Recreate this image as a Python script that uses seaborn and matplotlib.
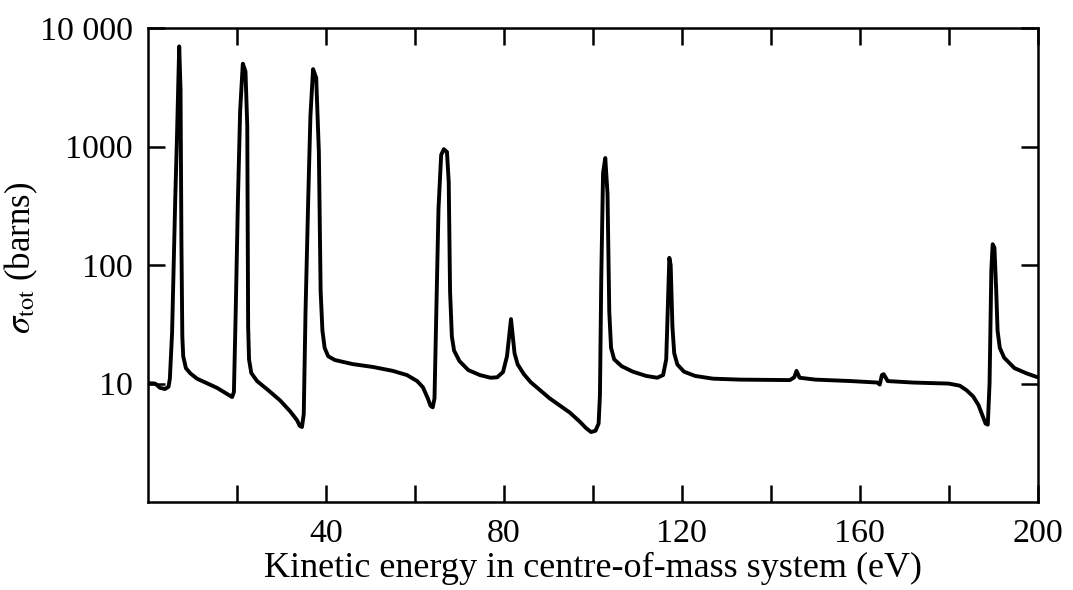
import pandas as pd
import seaborn as sb
import matplotlib.pyplot as plt

# Total cross section vs centre-of-mass kinetic energy
energy = [0, 1.6, 2.7, 3.8, 4.6, 4.9, 5.4, 6.1, 6.5, 7.0, 7.3, 7.5, 7.7, 7.9, 8.5, 9.5,
          11.0, 15.5, 18.2, 18.9, 19.3, 19.7, 20.2, 20.7, 21.3, 21.9, 22.3, 22.5, 22.7, 23.2,
          24.5, 27.0, 29.7, 32.0, 33.5, 34.1, 34.6, 35.0, 35.4, 36.0, 36.5, 37.1, 37.8, 38.4,
          38.8, 39.2, 39.7, 40.5, 42.0, 46.0, 50.6, 55.0, 58.2, 60.5, 61.8, 62.9, 63.5, 64.0,
          64.4, 64.8, 65.3, 65.9, 66.5, 67.2, 67.6, 67.9, 68.3, 68.8, 70.0, 72.0, 74.6, 77.0,
          78.5, 79.8, 80.7, 81.6, 82.4, 83.1, 84.5, 86.0, 90.3, 94.8, 97.0, 98.5, 99.6, 100.6,
          101.3, 101.6, 101.9, 102.3, 102.8, 103.3, 103.7, 104.1, 104.8, 106.5, 109.0, 112.0,
          114.5, 115.8, 116.5, 116.9, 117.2, 117.5, 117.9, 118.3, 119.0, 120.5, 123.0, 127.0,
          133.0, 144.3, 145.3, 145.8, 146.5, 150.0, 158.0, 164.0, 164.5, 165.0, 165.4, 166.3,
          172.0, 180.0, 182.5, 184.0, 185.5, 186.7, 187.6, 188.3, 188.8, 189.2, 189.6, 189.9,
          190.3, 190.7, 191.0, 191.5, 192.5, 194.8, 197.5, 200.0]
sigma = [10.1, 10.0, 9.2, 9.0, 9.4, 11, 27, 350, 1200, 7000, 3000, 150, 25, 17, 13.5, 12.2,
         11.0, 9.2, 8.0, 7.7, 8.5, 40, 350, 2000, 5000, 4300, 1500, 30, 16, 12.3,
         10.5, 8.8, 7.2, 5.8, 4.9, 4.4, 4.3, 5.5, 40, 350, 1800, 4500, 3800, 900,
         60, 28, 20, 17, 15.8, 14.6, 13.8, 12.8, 11.8, 10.5, 9.3, 7.5, 6.5, 6.3,
         7.5, 40, 300, 850, 950, 900, 500, 60, 25, 19, 15.5, 13, 11.8, 11.2,
         11.3, 12.5, 17, 35, 18, 14.5, 12, 10.3, 7.5, 5.7, 4.8, 4.2, 3.9, 4.0,
         4.6, 8, 80, 600, 800, 400, 40, 20, 16, 14, 12.6, 11.6,
         11.2, 11.8, 16, 50, 115, 100, 30, 18, 14.5, 12.6, 11.6, 11.0,
         10.8, 10.7, 11.3, 12.8, 11.2, 10.8, 10.5, 10.2, 9.8, 11.8, 12.0, 10.5,
         10.2, 10.0, 9.6, 8.8, 7.8, 6.6, 5.4, 4.6, 4.5, 10, 90, 150,
         140, 60, 28, 20, 16.5, 13.5, 12.2, 11.3]

ytick_vals = [10, 100, 1000, 10000]
ytick_labels = ['10', '100', '1000', '10 000']
xtick_vals = [20, 40, 60, 80, 100, 120, 140, 160, 180, 200]
xtick_labels = ['', '40', '', '80', '', '120', '', '160', '', '200']

df = pd.DataFrame({'energy': energy, 'sigma': sigma})

sb.set_theme(style='ticks')
plt.rcParams['font.family'] = ['Liberation Serif', 'DejaVu Serif']
plt.rcParams['mathtext.fontset'] = 'stix'
plt.rcParams['axes.labelcolor'] = 'black'

fig, ax = plt.subplots(figsize=(10.73, 5.90), dpi=100)
fig.subplots_adjust(left=0.138, right=0.967, bottom=0.149, top=0.9525)

sb.lineplot(x='energy', y='sigma', data=df, color='black', linewidth=2.8,
            estimator=None, sort=False, ax=ax)
ax.lines[0].set_solid_joinstyle('round')
ax.lines[0].set_solid_capstyle('round')

ax.set_yscale('log')
ax.set_xlim(0, 200)
ax.set_ylim(1, 10000)
ax.set_yticks(ytick_vals)
ax.set_yticklabels(ytick_labels)
ax.set_xticks(xtick_vals)
ax.set_xticklabels(xtick_labels)
ax.minorticks_off()

ax.tick_params(direction='in', length=12, width=1.8, top=True, right=True,
               labelsize=24.5, colors='black')
ax.tick_params(axis='y', pad=11)
ax.tick_params(axis='x', pad=12)
for sp in ax.spines.values():
    sp.set_linewidth(1.8)
    sp.set_color('black')

ax.set_xlabel('Kinetic energy in centre-of-mass system (eV)', fontsize=26, labelpad=2, color='black')
ax.set_ylabel(r'$\sigma_{\rm tot}$ (barns)', fontsize=25, color='black')
ax.yaxis.set_label_coords(-0.121, 0.515)

plt.savefig('out.png', dpi=100)
